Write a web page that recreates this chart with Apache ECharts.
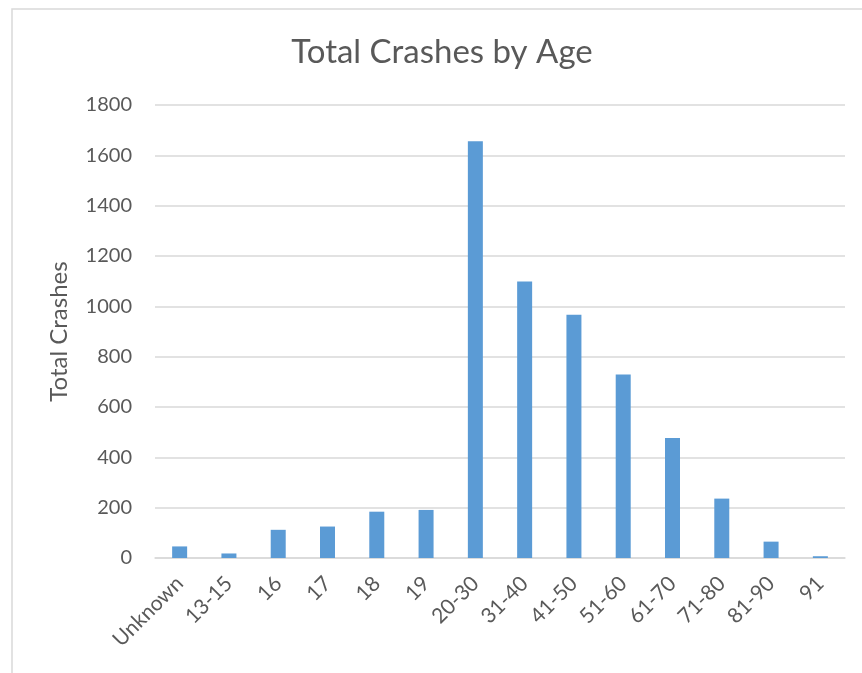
<!DOCTYPE html>
<html>
<head>
<meta charset="utf-8">
<script src="https://cdn.jsdelivr.net/npm/echarts@6/dist/echarts.min.js"></script>
<style>
  html, body { margin: 0; padding: 0; background: #fff; }
  #chart { width: 862px; height: 673px; }
</style>
</head>
<body>
<div id="chart"></div>
<script>
// age groups and crash counts
const ageGroups = ["Unknown", "13-15", "16", "17", "18", "19", "20-30", "31-40", "41-50", "51-60", "61-70", "71-80", "81-90", "91"];
const totalCrashes = [46, 18, 112, 125, 184, 191, 1656, 1099, 967, 729, 477, 236, 65, 7];
const yTicks = [0, 200, 400, 600, 800, 1000, 1200, 1400, 1600, 1800];

const textColor = "#595959";
const lineColor = "#D9D9D9";
const font = "Lato, 'Open Sans', sans-serif";

const chart = echarts.init(document.getElementById("chart"));
chart.setOption({
  backgroundColor: "#fff",
  animation: false,
  title: {
    text: "Total Crashes by Age",
    left: 437,
    top: 31,
    textAlign: "center",
    textStyle: { color: textColor, fontSize: 33, fontWeight: "normal", fontFamily: font },
  },
  graphic: [
    {
      type: "rect",
      left: 9.5,
      top: 6.5,
      shape: { width: 900, height: 700 },
      style: { fill: "none", stroke: lineColor, lineWidth: 1.5 },
      silent: true,
    },
  ],
  grid: {
    left: 155,
    right: 17,
    top: 105,
    bottom: 115,
    containLabel: false,
  },
  xAxis: {
    type: "category",
    data: ageGroups,
    axisTick: { show: false },
    axisLine: { show: true, lineStyle: { color: lineColor, width: 1.5 } },
    axisLabel: {
      rotate: 45,
      interval: 0,
      margin: 22,
      color: textColor,
      fontSize: 21,
      fontFamily: font,
    },
  },
  yAxis: {
    type: "value",
    min: yTicks[0],
    max: yTicks[yTicks.length - 1],
    interval: 200,
    name: "Total Crashes",
    nameLocation: "middle",
    nameGap: 84,
    nameTextStyle: { color: textColor, fontSize: 24, fontFamily: font },
    axisLine: { show: false },
    axisTick: { show: false },
    axisLabel: {
      color: textColor,
      fontSize: 20,
      fontFamily: font,
      margin: 23,
      formatter: (v) => String(v),
    },
    splitLine: { show: true, lineStyle: { color: lineColor, width: 1.5 } },
  },
  series: [
    {
      type: "bar",
      data: totalCrashes,
      barWidth: 15,
      itemStyle: { color: "#5B9BD5" },
    },
  ],
});
</script>
</body>
</html>
